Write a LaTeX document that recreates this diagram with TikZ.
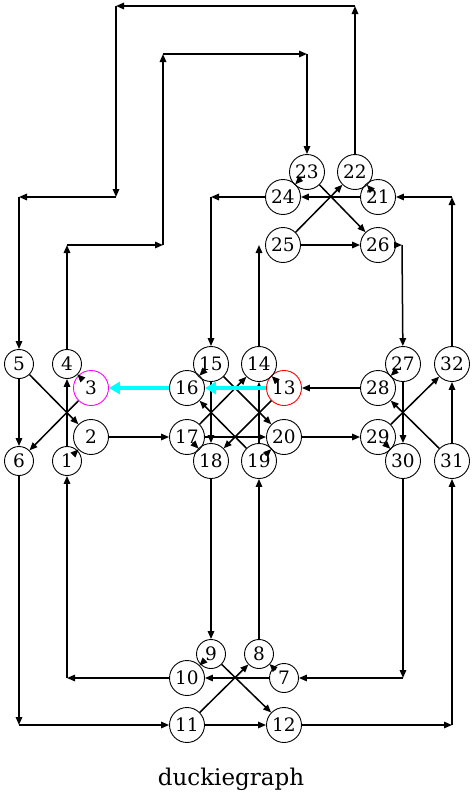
\documentclass[tikz,border=0pt]{standalone}
\usepackage{fontspec}
\setmainfont{DejaVu Serif}
\usetikzlibrary{arrows.meta,calc}
\definecolor{hlcyan}{RGB}{0,255,255}
\definecolor{hlmag}{RGB}{255,0,255}
\definecolor{hlred}{RGB}{255,0,0}
\begin{document}
\begin{tikzpicture}[x=1pt,y=-1pt,
  nd/.style={circle,draw,line width=0.9pt,inner sep=0pt,minimum size=35pt,font=\fontsize{18.5}{20}\selectfont},
  sd/.style={nd,minimum size=29pt},
  e/.style={line width=1.5pt,-{Triangle[length=8pt,width=6.5pt]}},
  ce/.style={line width=3.5pt,hlcyan,-{Triangle[length=11pt,width=12pt]}}]
\useasboundingbox (0,0) rectangle (475,809);
% nodes
\node[sd] (n1) at (67,461) {1};
\node[nd] (n2) at (91,437) {2};
\node[nd,draw=hlmag] (n3) at (91,388) {3};
\node[sd] (n4) at (67,364) {4};
\node[sd] (n5) at (19,364) {5};
\node[sd] (n6) at (19,461) {6};
\node[sd] (n7) at (284,678) {7};
\node[sd] (n8) at (259,654) {8};
\node[sd] (n9) at (211,654) {9};
\node[nd] (n10) at (187,678) {10};
\node[nd] (n11) at (187,725) {11};
\node[nd] (n12) at (284,725) {12};
\node[nd,draw=hlred] (n13) at (284,388) {13};
\node[nd] (n14) at (259,364) {14};
\node[nd] (n15) at (211,364) {15};
\node[nd] (n16) at (187,388) {16};
\node[nd] (n17) at (187,437) {17};
\node[nd] (n18) at (211,461) {18};
\node[nd] (n19) at (259,461) {19};
\node[nd] (n20) at (284,437) {20};
\node[nd] (n21) at (378,197) {21};
\node[nd] (n22) at (355,172) {22};
\node[nd] (n23) at (307,172) {23};
\node[nd] (n24) at (283,197) {24};
\node[nd] (n25) at (283,245) {25};
\node[nd] (n26) at (378,245) {26};
\node[nd] (n27) at (403,364) {27};
\node[nd] (n28) at (378,388) {28};
\node[nd] (n29) at (378,437) {29};
\node[nd] (n30) at (403,461) {30};
\node[nd] (n31) at (452,461) {31};
\node[nd] (n32) at (452,364) {32};
\node[font=\fontsize{23}{26}\selectfont] (cap) at (231,779) {duckiegraph};
% corner points
\coordinate (a1) at (355,6);
\coordinate (a2) at (116,6);
\coordinate (a3) at (116,197);
\coordinate (a4) at (19,197);
\coordinate (b1) at (67,245);
\coordinate (b2) at (163,245);
\coordinate (b3) at (163,54);
\coordinate (b4) at (307,54);
\coordinate (c1) at (211,197);
\coordinate (c2) at (452,197);
\coordinate (c3) at (402,245);
\coordinate (c4) at (403,678);
\coordinate (c5) at (452,725);
\coordinate (c6) at (67,678);
\coordinate (c7) at (19,725);
% long routed edges
\draw[e] (n22) -- (a1);
\draw[e] (a1) -- (a2);
\draw[e] (a2) -- (a3);
\draw[e] (a3) -- (a4);
\draw[e] (a4) -- (n5);
\draw[e] (n4) -- (b1);
\draw[e] (b1) -- (b2);
\draw[e] (b2) -- (b3);
\draw[e] (b3) -- (b4);
\draw[e] (b4) -- (n23);
\draw[e] (n24) -- (c1);
\draw[e] (c1) -- (n15);
\draw[e] (n32) -- (c2);
\draw[e] (c2) -- (n21);
\draw[e] (n26) -- (c3);
\draw[e] (c3) -- (n27);
\draw[e] (n30) -- (c4);
\draw[e] (c4) -- (n7);
\draw[e] (n12) -- (c5);
\draw[e] (c5) -- (n31);
\draw[e] (n10) -- (c6);
\draw[e] (c6) -- (n1);
\draw[e] (n6) -- (c7);
\draw[e] (c7) -- (n11);
% straight edges
\draw[e] (n14.north) -- (n14.north |- n25.west);
\draw[e] (n25) -- (n26);
\draw[e] (n21) -- (n24);
\draw[e] (n23) -- (n26);
\draw[e] (n25) -- (n22);
\draw[e] (n2) -- (n17);
\draw[e] (n20) -- (n29);
\draw[e] (n28) -- (n13);
\draw[e] (n5) -- (n6);
\draw[e] (n5) -- (n2);
\draw[e] (n3) -- (n6);
\draw[e] (n1) -- (n4);
\draw[e] (n15) -- (n18);
\draw[e] (n15) -- (n20);
\draw[e] (n13) -- (n18);
\draw[e] (n17) -- (n14);
\draw[e] (n17) -- (n20);
\draw[e] (n19) -- (n16);
\draw[e] (n19) -- (n14);
\draw[e] (n27) -- (n30);
\draw[e] (n29) -- (n32);
\draw[e] (n31) -- (n28);
\draw[e] (n31) -- (n32);
\draw[e] (n18) -- (n9);
\draw[e] (n8) -- (n19);
\draw[e] (n7) -- (n10);
\draw[e] (n11) -- (n12);
\draw[e] (n11) -- (n8);
\draw[e] (n9) -- (n12);
% short edges between touching nodes
\draw[e] ($(n2.center)!25pt!(n1.center)$) -- ($(n2.center)!17.5pt!(n1.center)$);
\draw[e] ($(n4.center)!22pt!(n3.center)$) -- ($(n4.center)!14.5pt!(n3.center)$);
\draw[e] ($(n14.center)!26pt!(n13.center)$) -- ($(n14.center)!17.5pt!(n13.center)$);
\draw[e] ($(n16.center)!26pt!(n15.center)$) -- ($(n16.center)!17.5pt!(n15.center)$);
\draw[e] ($(n18.center)!26pt!(n17.center)$) -- ($(n18.center)!17.5pt!(n17.center)$);
\draw[e] ($(n20.center)!26pt!(n19.center)$) -- ($(n20.center)!17.5pt!(n19.center)$);
\draw[e] ($(n22.center)!26pt!(n21.center)$) -- ($(n22.center)!17.5pt!(n21.center)$);
\draw[e] ($(n24.center)!26pt!(n23.center)$) -- ($(n24.center)!17.5pt!(n23.center)$);
\draw[e] ($(n28.center)!26pt!(n27.center)$) -- ($(n28.center)!17.5pt!(n27.center)$);
\draw[e] ($(n30.center)!26pt!(n29.center)$) -- ($(n30.center)!17.5pt!(n29.center)$);
\draw[e] ($(n8.center)!23pt!(n7.center)$) -- ($(n8.center)!14.5pt!(n7.center)$);
\draw[e] ($(n10.center)!25pt!(n9.center)$) -- ($(n10.center)!17.5pt!(n9.center)$);
% highlighted edges
\draw[ce] (n13) -- (n16);
\draw[ce] (n16) -- (n3);
\end{tikzpicture}
\end{document}
